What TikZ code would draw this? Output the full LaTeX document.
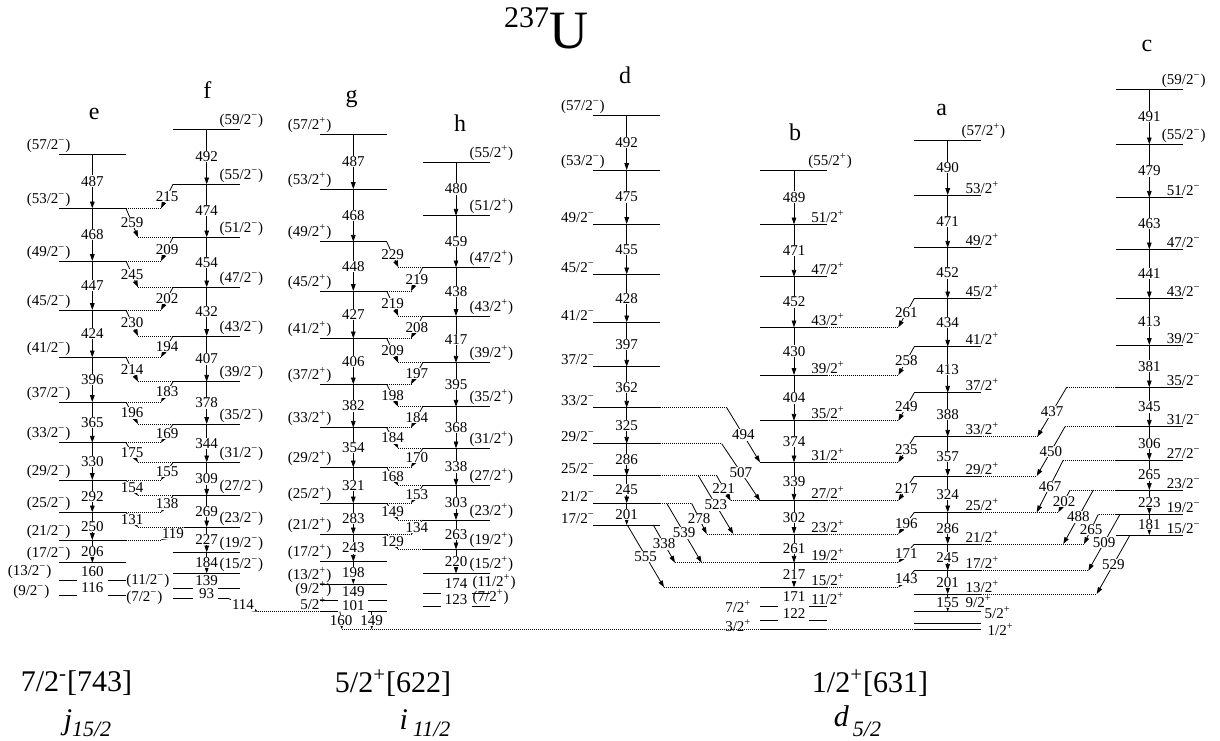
\documentclass[tikz,border=0pt]{standalone}
\usepackage{fontspec}
\setmainfont{Liberation Serif}
\usetikzlibrary{arrows.meta, calc}
\newcommand\mneg{\textsuperscript{−}}
\newcommand\mpos{\textsuperscript{+}}
\newcommand\lsfont{\fontsize{7.5}{8}\selectfont}
\tikzset{
  lvl/.style      = {line width=0.5pt},
  gam/.style      = {line width=0.4pt, -{Triangle[length=3.4pt, width=2.3pt]}},
  gext/.style     = {line width=0.45pt, dash pattern=on 0.45pt off 0.55pt},
  elab/.style     = {fill=white, inner sep=0.3pt, font=\lsfont},
  jleft/.style    = {anchor=south east, inner sep=0.6pt, font=\lsfont},
  jright/.style   = {anchor=south west, inner sep=0.6pt, font=\lsfont},
  bandname/.style = {font=\fontsize{12}{13}\selectfont},
  nilsson/.style  = {font=\fontsize{15}{17}\selectfont},
  orbit/.style    = {anchor=base, inner sep=0pt, font=\fontsize{15}{17}\selectfont\itshape},
}

\begin{document}
\begin{tikzpicture}[x=0.5pt, y=-0.5pt]
  \useasboundingbox (0,0) rectangle (1220,740);

  % x positions of the tips of the crossing transitions
  \coordinate (efx) at (138,0);
  \coordinate (fex) at (161,0);
  \coordinate (ghx) at (398.3,0);
  \coordinate (hgx) at (411,0);
  \coordinate (abx) at (898.3,0);

  \node (title) at (546,28)
    {\raisebox{10.5pt}{\fontsize{15}{16}\selectfont 237}\fontsize{27}{30}\selectfont U};

  % ── band e ─────────────────────────────────────────────────────────────
  \node[bandname] (e-name) at (94.3,114) {e};
  \foreach \s/\y in {57/154, 53/208.3, 49/261, 45/310, 41/357.3, 37/402,
                     33/442.7, 29/480, 25/512.3, 21/540, 17/562.7}{
    \coordinate (e\s-L) at (59,\y);
    \coordinate (e\s-M) at (92.3,\y);
    \coordinate (e\s-R) at (126,\y);
    \draw[lvl] (e\s-L) -- (e\s-R);
    \node[jleft] (e\s-j) at ($(e\s-L)+(13,0)$) {(\s/2\mneg)};
  }
  \foreach \s/\y in {13/580.7, 9/595}{
    \coordinate (e\s-L) at (59,\y);
    \coordinate (e\s-M) at (92.3,\y);
    \coordinate (e\s-R) at (126,\y);
    \draw[lvl] (e\s-L) -- ++(18,0) (e\s-R) -- ++(-18,0);
  }
  \node[jleft, anchor=east] (e13-j) at (53,571.7) {(13/2\mneg)};
  \node[jleft, anchor=east] (e9-j)  at (51,591.7) {(9/2\mneg)};

  % ── band f ─────────────────────────────────────────────────────────────
  \node[bandname] (f-name) at (207.3,90) {f};
  \foreach \s/\y in {59/129.3, 55/184.3, 51/237.3, 47/287.3, 43/336, 39/381.7,
                     35/424, 31/462.3, 27/495.7, 23/527.3, 19/552.3, 15/573.3,
                     11/588.3, 7/598.3}{
    \coordinate (f\s-L) at (173,\y);
    \coordinate (f\s-M) at (206.7,\y);
    \coordinate (f\s-R) at (240,\y);
  }
  \coordinate (f23-L) at (185,527.3);
  \coordinate (f7-R) at (228,598.3);
  \foreach \s in {59,55,...,15}{
    \draw[lvl] (f\s-L) -- (f\s-R);
    \node[jright] (f\s-j) at ($(f\s-R)+(-22,0)$) {(\s/2\mneg)};
  }
  \draw[lvl] (f11-L) -- ++(20,0) (f11-R) -- ++(-22,0);
  \draw[lvl] (f7-L) -- ++(20,0) (f7-R) -- ++(-10,0);
  \node[jleft, anchor=east] (f11-j) at (171,580.7) {(11/2\mneg)};
  \node[jleft, anchor=east] (f7-j)  at (164,598.3) {(7/2\mneg)};

  % ── band g ─────────────────────────────────────────────────────────────
  \node[bandname] (g-name) at (351.7,99) {g};
  \foreach \s/\y in {57/134.3, 53/189, 49/241.7, 45/291, 41/338.3, 37/384.3,
                     33/427.7, 29/467.3, 25/503.3, 21/534.3, 17/561.7, 13/584,
                     9/600, 5/611.7}{
    \coordinate (g\s-L) at (320,\y);
    \coordinate (g\s-M) at (353.3,\y);
    \coordinate (g\s-R) at (386.7,\y);
  }
  \foreach \s in {57,53,...,13}{
    \draw[lvl] (g\s-L) -- (g\s-R);
    \node[jleft] (g\s-j) at ($(g\s-L)+(13,0)$) {(\s/2\mpos)};
  }
  \foreach \s in {9,5}
    \draw[lvl] (g\s-L) -- ++(18,0) (g\s-R) -- ++(-19,0);
  \node[jleft] (g9-j) at (333,598.5) {(9/2\mpos)};
  \node[jleft] (g5-j) at (328,611) {5/2\mpos};

  % ── band h ─────────────────────────────────────────────────────────────
  \node[bandname] (h-name) at (460,123) {h};
  \foreach \s/\y in {55/162.3, 51/215.7, 47/267.3, 43/316, 39/362.7, 35/406.7,
                     31/448.3, 27/485.7, 23/520, 19/549.3, 15/573.3, 11/593.3, 7/606.7}{
    \coordinate (h\s-L) at (422.7,\y);
    \coordinate (h\s-M) at (456,\y);
    \coordinate (h\s-R) at (490,\y);
  }
  \foreach \s in {55,51,...,15}{
    \draw[lvl] (h\s-L) -- (h\s-R);
    \node[jright] (h\s-j) at ($(h\s-R)+(-22,0)$) {(\s/2\mpos)};
  }
  \foreach \s in {11,7}
    \draw[lvl] (h\s-L) -- ++(18.3,0) (h\s-R) -- ++(-18.3,0);
  \node[jright] (h11-j) at (471,591.5) {(11/2\mpos)};
  \node[jright] (h7-j)  at (471,606.7) {(7/2\mpos)};

  % ── band d ─────────────────────────────────────────────────────────────
  \node[bandname] (d-name) at (625,75) {d};
  \foreach \s/\y in {57/115.7, 53/170, 49/224, 45/274.3, 41/322.3, 37/366.7,
                     33/407.7, 29/443.7, 25/475.7, 21/503.3, 17/525}{
    \coordinate (d\s-L) at (593.3,\y);
    \coordinate (d\s-M) at (626.7,\y);
    \coordinate (d\s-R) at (660,\y);
    \draw[lvl] (d\s-L) -- (d\s-R);
  }
  \foreach \s in {57,53}
    \node[jleft] (d\s-j) at ($(d\s-L)+(13,0)$) {(\s/2\mneg)};
  \foreach \s in {49,45,...,17}
    \node[jleft] (d\s-j) at ($(d\s-L)+(3,0)$) {\s/2\mneg};

  % ── band b ─────────────────────────────────────────────────────────────
  \node[bandname] (b-name) at (795,132) {b};
  \foreach \s/\y in {55/170, 51/224.3, 47/276.7, 43/327.3, 39/375, 35/420.7,
                     31/462.3, 27/500.7, 23/534, 19/562.7, 15/587.3, 11/606.7,
                     7/620, 3/629.3}{
    \coordinate (b\s-L) at (760,\y);
    \coordinate (b\s-M) at (794,\y);
    \coordinate (b\s-R) at (826.7,\y);
  }
  \foreach \s in {55,51,...,15,3}
    \draw[lvl] (b\s-L) -- (b\s-R);
  \foreach \s in {11,7}
    \draw[lvl] (b\s-L) -- ++(18,0) (b\s-R) -- ++(-18,0);
  \node[jright] (b55-j) at ($(b55-R)+(-20,0)$) {(55/2\mpos)};
  \foreach \s in {51,47,...,11}
    \node[jright] (b\s-j) at ($(b\s-R)+(-17,0)$) {\s/2\mpos};
  \node[jleft, anchor=east] (b7-j) at (753,606.7) {7/2\mpos};
  \node[jleft, anchor=east] (b3-j) at (753,626) {3/2\mpos};

  % ── band a ─────────────────────────────────────────────────────────────
  \node[bandname] (a-name) at (941.7,110) {a};
  \foreach \s/\y in {57/140, 53/195, 49/247.7, 45/298.3, 41/346.7, 37/392.7,
                     33/436.7, 29/476, 25/512.3, 21/544, 17/570.7, 13/594,
                     9/611.7, 5/623.3, 1/629.3}{
    \coordinate (a\s-L) at (914.3,\y);
    \coordinate (a\s-M) at (947.7,\y);
    \coordinate (a\s-R) at (981,\y);
    \draw[lvl] (a\s-L) -- (a\s-R);
  }
  \node[jright] (a57-j) at ($(a57-R)+(-21,0)$) {(57/2\mpos)};
  \foreach \s in {53,49,...,13}
    \node[jright] (a\s-j) at ($(a\s-R)+(-17,0)$) {\s/2\mpos};
  \node[jright] (a9-j) at (964,609) {9/2\mpos};
  \node[jright] (a5-j) at (983,620.5) {5/2\mpos};
  \node[jright, anchor=west] (a1-j) at (986,630) {1/2\mpos};

  % ── band c ─────────────────────────────────────────────────────────────
  \node[bandname] (c-name) at (1147,46) {c};
  \foreach \s/\y in {59/89.3, 55/144.3, 51/197.7, 47/249.3, 43/298.3, 39/345,
                     35/387.3, 31/426.7, 27/460, 23/490, 19/514.3, 15/535}{
    \coordinate (c\s-L) at (1116,\y);
    \coordinate (c\s-M) at (1149.3,\y);
    \coordinate (c\s-R) at (1183.3,\y);
    \draw[lvl] (c\s-L) -- (c\s-R);
  }
  \foreach \s in {59,55}
    \node[jright] (c\s-j) at ($(c\s-R)+(-23,0)$) {(\s/2\mneg)};
  \foreach \s in {51,47,...,15}
    \node[jright] (c\s-j) at ($(c\s-R)+(-18,0)$) {\s/2\mneg};

  % ground state line running under b to a
  \coordinate (gnd) at (342,629.3);
  \draw[gext] (gnd) -- (a1-L);

  % ── in-band cascades ───────────────────────────────────────────────────
  \foreach \a/\b/\E in {57/53/487, 53/49/468, 49/45/447, 45/41/424, 41/37/396,
                        37/33/365, 33/29/330, 29/25/292, 25/21/250, 21/17/206}
    \draw[gam] (e\a-M) -- (e\b-M) node[elab, midway] (e\a-g) {\E};
  \node[elab] (e17-g) at ($(e17-M)!0.5!(e13-M)$) {160};
  \node[elab] (e13-g) at ($(e13-M)!0.5!(e9-M)$) {116};

  \foreach \a/\b/\E in {59/55/492, 55/51/474, 51/47/454, 47/43/432, 43/39/407,
                        39/35/378, 35/31/344, 31/27/309, 27/23/269, 23/19/227, 19/15/184}
    \draw[gam] (f\a-M) -- (f\b-M) node[elab, midway] (f\a-g) {\E};
  \node[elab] (f15-g) at ($(f15-M)!0.5!(f11-M)$) {139};
  \node[elab] (f11-g) at ($(f11-M)!0.5!(f7-M)$) {93};

  \foreach \a/\b/\E in {57/53/487, 53/49/468, 49/45/448, 45/41/427, 41/37/406,
                        37/33/382, 33/29/354, 29/25/321, 25/21/283, 21/17/243, 17/13/198}
    \draw[gam] (g\a-M) -- (g\b-M) node[elab, midway] (g\a-g) {\E};
  \node[elab] (g13-g) at ($(g13-M)!0.5!(g9-M)$) {149};
  \node[elab] (g9-g)  at ($(g9-M)!0.5!(g5-M)$) {101};

  \foreach \a/\b/\E in {55/51/480, 51/47/459, 47/43/438, 43/39/417, 39/35/395,
                        35/31/368, 31/27/338, 27/23/303, 23/19/263, 19/15/220}
    \draw[gam] (h\a-M) -- (h\b-M) node[elab, midway] (h\a-g) {\E};
  \node[elab] (h15-g) at ($(h15-M)!0.5!(h11-M)$) {174};
  \node[elab] (h11-g) at ($(h11-M)!0.5!(h7-M)$) {123};

  \foreach \a/\b/\E in {57/53/492, 53/49/475, 49/45/455, 45/41/428, 41/37/397,
                        37/33/362, 33/29/325, 29/25/286, 25/21/245, 21/17/201}
    \draw[gam] (d\a-M) -- (d\b-M) node[elab, midway] (d\a-g) {\E};

  \foreach \a/\b/\E in {55/51/489, 51/47/471, 47/43/452, 43/39/430, 39/35/404,
                        35/31/374, 31/27/339, 27/23/302, 23/19/261, 19/15/217}
    \draw[gam] (b\a-M) -- (b\b-M) node[elab, midway] (b\a-g) {\E};
  \node[elab] (b15-g) at ($(b15-M)!0.5!(b11-M)$) {171};
  \node[elab] (b11-g) at ($(b11-M)!0.5!(b7-M)$) {122};

  \foreach \a/\b/\E in {57/53/490, 53/49/471, 49/45/452, 45/41/434, 41/37/413,
                        37/33/388, 33/29/357, 29/25/324, 25/21/286, 21/17/245,
                        17/13/201, 13/9/155}
    \draw[gam] (a\a-M) -- (a\b-M) node[elab, midway] (a\a-g) {\E};

  \foreach \a/\b/\E in {59/55/491, 55/51/479, 51/47/463, 47/43/441, 43/39/413,
                        39/35/381, 35/31/345, 31/27/306, 27/23/265, 23/19/223, 19/15/181}
    \draw[gam] (c\a-M) -- (c\b-M) node[elab, midway] (c\a-g) {\E};

  % ── crossings e <-> f ──────────────────────────────────────────────────
  \foreach \a/\b/\E in {53/51/259, 49/47/245, 45/43/230, 41/39/214, 37/35/196,
                        33/31/175, 29/27/154, 25/23/131}{
    \coordinate (ef\a) at (efx |- f\b-L);
    \draw[gext] (ef\a) -- (f\b-L);
    \draw[gam] (e\a-R) -- (ef\a) node[elab, midway] (ef\a-g) {\E};
  }
  \foreach \a/\b/\E in {55/53/215, 51/49/209, 47/45/202, 43/41/194, 39/37/183,
                        35/33/169, 31/29/155, 27/25/138, 23/21/119}{
    \coordinate (fe\a) at (fex |- e\b-R);
    \draw[gext] (e\b-R) -- (fe\a);
    \draw[gam] (f\a-L) -- (fe\a) node[elab, midway] (fe\a-g) {\E};
  }

  % f -> g and g -> ground
  \coordinate (fg7) at (258,611.7);
  \draw[gext] (fg7) -- (g5-L);
  \draw[gam] (f7-R) -- (fg7) node[elab, midway] (fg7-g) {114};
  \coordinate (g5-a) at (340,611.7);
  \coordinate (g5-b) at (371.7,611.7);
  \coordinate (gnd-b) at (371.7,629.3);
  \draw[gam] (g5-a) -- (gnd) node[elab, midway] (g5-g) {160};
  \draw[gam] (g5-b) -- (gnd-b) node[elab, midway] (g5-gb) {149};

  % ── crossings g <-> h ──────────────────────────────────────────────────
  \foreach \a/\b/\E in {49/47/229, 45/43/219, 41/39/209, 37/35/198, 33/31/184,
                        29/27/168, 25/23/149, 21/19/129}{
    \coordinate (gh\a) at (ghx |- h\b-L);
    \draw[gext] (gh\a) -- (h\b-L);
    \draw[gam] (g\a-R) -- (gh\a) node[elab, midway] (gh\a-g) {\E};
  }
  \foreach \a/\b/\E in {47/45/219, 43/41/208, 39/37/197, 35/33/184, 31/29/170,
                        27/25/153, 23/21/134}{
    \coordinate (hg\a) at (hgx |- g\b-R);
    \draw[gext] (g\b-R) -- (hg\a);
    \draw[gam] (h\a-L) -- (hg\a) node[elab, midway] (hg\a-g) {\E};
  }

  % ── crossings d -> b ───────────────────────────────────────────────────
  \coordinate (d33-x) at (726.7,407.7);
  \coordinate (d29-x) at (721.7,443.7);
  \coordinate (d25-x) at (716.7,475.7);
  \coordinate (d25-y) at (698.3,475.7);
  \coordinate (d21-x) at (691.7,503.3);
  \coordinate (d21-y) at (666.7,503.3);
  \coordinate (d17-x) at (653.3,525);
  \coordinate (d17-y) at (627.3,525);
  \coordinate (b27-t) at (730.7,500.7);
  \coordinate (b23-t) at (733.3,534);
  \coordinate (b23-u) at (706.7,534);
  \coordinate (b19-t) at (701.7,562.7);
  \coordinate (b19-u) at (675,562.7);
  \coordinate (b15-t) at (664,587.3);
  \foreach \s in {33,29,25,21}
    \draw[gext] (d\s-R) -- (d\s-x);
  \draw[gext] (b27-t) -- (b27-L);
  \draw[gext] (b23-u) -- (b23-L);
  \draw[gext] (b19-u) -- (b19-L);
  \draw[gext] (b15-t) -- (b15-L);
  \draw[gam] (d33-x) -- (b31-L) node[elab, midway] (d33-g2) {494};
  \draw[gam] (d29-x) -- (b27-L) node[elab, midway] (d29-g2) {507};
  \draw[gam] (d25-y) -- (b23-t) node[elab, midway] (d25-g2) {523};
  \draw[gam] (d25-x) -- (b27-t) node[elab, midway] (d25-g3) {221};
  \draw[gam] (d21-x) -- (b23-u) node[elab, midway] (d21-g2) {278};
  \draw[gam] (d21-y) -- (b19-t) node[elab, midway] (d21-g3) {539};
  \draw[gam] (d17-x) -- (b19-u) node[elab, midway] (d17-g2) {338};
  \draw[gam] (d17-y) -- (b15-t) node[elab, midway] (d17-g3) {555};

  % ── crossings a -> b ───────────────────────────────────────────────────
  \foreach \a/\b/\E in {45/43/261, 41/39/258, 37/35/249, 33/31/235, 29/27/217,
                        25/23/196, 21/19/171, 17/15/143}{
    \coordinate (ab\a) at (abx |- b\b-R);
    \draw[gext] (b\b-R) -- (ab\a);
    \draw[gam] (a\a-L) -- (ab\a) node[elab, midway] (ab\a-g) {\E};
  }

  % ── crossings c -> a ───────────────────────────────────────────────────
  \coordinate (c35-x) at (1066.7,387.3);
  \coordinate (c31-x) at (1065,426.7);
  \coordinate (c27-x) at (1063.3,460);
  \coordinate (c23-x) at (1070,490);
  \coordinate (c23-y) at (1093.3,490);
  \coordinate (c19-x) at (1098.3,514.3);
  \coordinate (c19-y) at (1120,514.3);
  \coordinate (c15-y) at (1130,535);
  \coordinate (a33-t) at (1037.3,436.7);
  \coordinate (a29-t) at (1036.7,476);
  \coordinate (a25-t) at (1036.7,512.3);
  \coordinate (a25-u) at (1058.3,512.3);
  \coordinate (a21-t) at (1063.3,544);
  \coordinate (a21-u) at (1084,544);
  \coordinate (a17-t) at (1088.3,570.7);
  \coordinate (a13-t) at (1096.7,594);
  \foreach \s in {35,31,27,23,19}
    \draw[gext] (c\s-L) -- (c\s-x);
  \draw[gext] (a33-R) -- (a33-t);
  \draw[gext] (a29-R) -- (a29-t);
  \draw[gext] (a25-R) -- (a25-u);
  \draw[gext] (a21-R) -- (a21-u);
  \draw[gext] (a17-R) -- (a17-t);
  \draw[gext] (a13-R) -- (a13-t);
  \draw[gam] (c35-x) -- (a33-t) node[elab, midway] (c35-g2) {437};
  \draw[gam] (c31-x) -- (a29-t) node[elab, midway] (c31-g2) {450};
  \draw[gam] (c27-x) -- (a25-t) node[elab, midway] (c27-g2) {467};
  \draw[gam] (c23-x) -- (a25-u) node[elab, midway] (c23-g2) {202};
  \draw[gam] (c23-y) -- (a21-t) node[elab, midway] (c23-g3) {488};
  \draw[gam] (c19-x) -- (a21-u) node[elab, midway] (c19-g2) {265};
  \draw[gam] (c19-y) -- (a17-t) node[elab, midway] (c19-g3) {509};
  \draw[gam] (c15-y) -- (a13-t) node[elab, midway] (c15-g2) {529};

  % ── Nilsson orbitals ───────────────────────────────────────────────────
  \node[nilsson] (orb-e) at (76.5,683) {7/2\textsuperscript{-}[743]};
  \node[nilsson] (orb-g) at (393,683) {5/2\textsuperscript{+}[622]};
  \node[nilsson] (orb-a) at (870,683) {1/2\textsuperscript{+}[631]};
  \node[orbit] (sh-e) at (87.5,729)
    {j\raisebox{-3.5pt}{\fontsize{11}{12}\selectfont 15/2}};
  \node[orbit] (sh-g) at (425,729)
    {i\hspace{2.5pt}\raisebox{-3.5pt}{\fontsize{11}{12}\selectfont 11/2}};
  \node[orbit] (sh-a) at (857.5,726)
    {d\hspace{2pt}\raisebox{-5pt}{\fontsize{11}{12}\selectfont 5/2}};

\end{tikzpicture}
\end{document}
